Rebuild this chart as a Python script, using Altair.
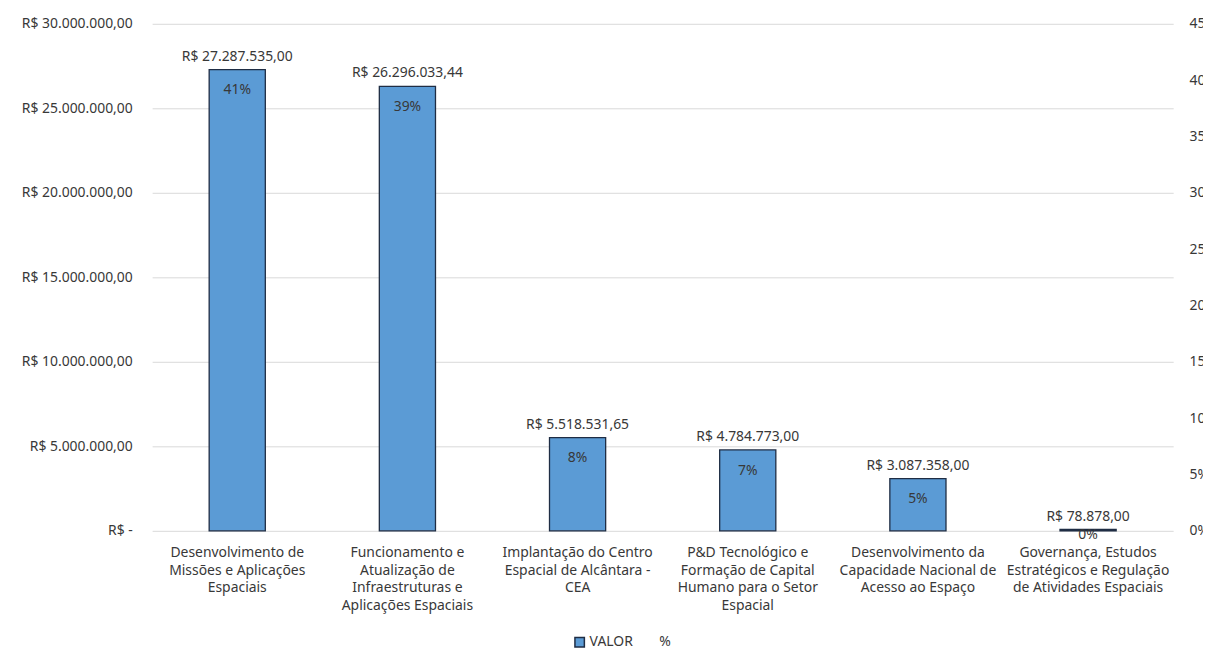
import altair as alt
import pandas as pd

categories = [
    "Desenvolvimento de|Missões e Aplicações|Espaciais",
    "Funcionamento e|Atualização de|Infraestruturas e|Aplicações Espaciais",
    "Implantação do Centro|Espacial de Alcântara -|CEA",
    "P&D Tecnológico e|Formação de Capital|Humano para o Setor|Espacial",
    "Desenvolvimento da|Capacidade Nacional de|Acesso ao Espaço",
    "Governança, Estudos|Estratégicos e Regulação|de Atividades Espaciais",
]
valores = [27287535.00, 26296033.44, 5518531.65, 4784773.00, 3087358.00, 78878.00]
percentuais = [41, 39, 8, 7, 5, 0]
left_ticks = [0, 5000000, 10000000, 15000000, 20000000, 25000000, 30000000]
right_ticks = [0, 0.05, 0.10, 0.15, 0.20, 0.25, 0.30, 0.35, 0.40, 0.45]
series_names = ["VALOR", "%"]


def brl(v):
    s = f"{v:,.2f}"
    s = s.replace(",", "#").replace(".", ",").replace("#", ".")
    return "R$ " + s


df = pd.DataFrame({"cat": categories, "valor": valores, "pct": percentuais})
df["serie"] = "VALOR"
df["valor_label"] = [brl(v) for v in valores]
df["pct_label"] = [f"{p}%" for p in percentuais]
df["pct_frac"] = [p / 100 for p in percentuais]

FONT = "Noto Sans"
TXT = "#383838"
FS = 14

x = alt.X(
    "cat:N",
    sort=None,
    title=None,
    scale=alt.Scale(paddingInner=0.67, paddingOuter=0.335),
    axis=alt.Axis(
        labelExpr="split(datum.label, '|')",
        labelAngle=0,
        labelFontSize=FS,
        labelColor=TXT,
        labelFont=FONT,
        labelLineHeight=17.7,
        labelPadding=15,
        labelLimit=400,
        ticks=False,
        domain=False,
    ),
)

y = alt.Y(
    "valor:Q",
    title=None,
    scale=alt.Scale(domain=[0, 30000000], nice=False),
    axis=alt.Axis(
        values=left_ticks,
        labelExpr="datum.value == 0 ? 'R$ -\u00a0\u00a0\u00a0' : 'R$ ' + replace(replace(replace(format(datum.value, ',.2f'), regexp(',', 'g'), '#'), regexp('[.]', 'g'), ','), regexp('#', 'g'), '.')",
        grid=True,
        gridColor="#d9d9d9",
        gridWidth=1,
        ticks=False,
        domain=False,
        labelPadding=20,
        labelFontSize=FS,
        labelColor=TXT,
        labelFont=FONT,
    ),
)


def make_legend():
    return alt.Legend(
        title=None,
        orient="none",
        legendX=423,
        legendY=615,
        direction="horizontal",
        symbolType="square",
        symbolSize=90,
        symbolStrokeWidth=1.5,
        labelFontSize=FS,
        labelFont=FONT,
        labelColor=TXT,
        labelOffset=3,
        columnPadding=8,
        padding=0,
    )


base = alt.Chart(df)

bars = base.mark_bar(strokeWidth=1.3).encode(
    x=x,
    y=y,
    color=alt.Color(
        "serie:N",
        scale=alt.Scale(domain=series_names, range=["#5b9bd5", "transparent"]),
        legend=make_legend(),
    ),
    stroke=alt.Stroke(
        "serie:N",
        scale=alt.Scale(domain=series_names, range=["#1f2d44", "transparent"]),
        legend=make_legend(),
    ),
)

value_text = base.mark_text(
    baseline="middle", dy=-13, fontSize=FS, font=FONT, color=TXT
).encode(x=x, y=y, text="valor_label:N")

pct_text_big = base.transform_filter("datum.pct >= 1").mark_text(
    baseline="middle", dy=21, fontSize=FS, font=FONT, color=TXT
).encode(x=x, y=y, text="pct_label:N")

pct_text_small = base.transform_filter("datum.pct < 1").mark_text(
    baseline="middle", dy=6, fontSize=FS, font=FONT, color=TXT
).encode(x=x, y=y, text="pct_label:N")

left = alt.layer(bars, value_text, pct_text_big, pct_text_small)

pct_points = base.mark_point(opacity=0).encode(
    x=x,
    y=alt.Y(
        "pct_frac:Q",
        title=None,
        scale=alt.Scale(domain=[0, 0.45], nice=False),
        axis=alt.Axis(
            orient="right",
            values=right_ticks,
            format=".0%",
            grid=False,
            ticks=False,
            domain=False,
            labelPadding=16,
            labelFontSize=FS,
            labelColor=TXT,
            labelFont=FONT,
        ),
    ),
)

chart = (
    alt.layer(left, pct_points)
    .resolve_scale(y="independent")
    .properties(
        width=1027,
        height=510,
        autosize=alt.AutoSizeParams(type="none"),
        padding={"left": 145, "top": 14, "right": 30, "bottom": 118},
        background="white",
    )
    .configure_view(stroke=None)
)

chart.save("out.html", embed_options={"renderer": "svg", "actions": False})
